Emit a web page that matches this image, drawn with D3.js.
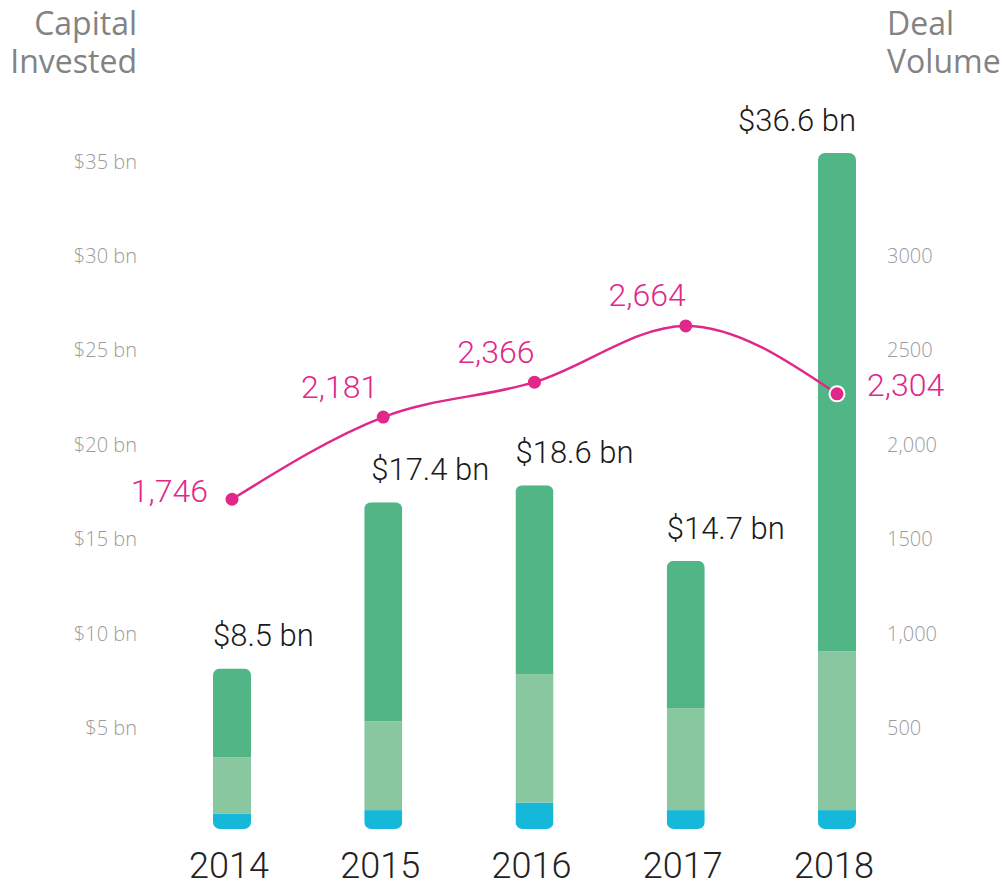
<!DOCTYPE html>
<html>
<head>
<meta charset="utf-8">
<script src="https://cdn.jsdelivr.net/npm/d3@7"></script>
<style>
    body { margin: 0; background: #fff; }
    svg { display: block; }
    .axis-label { font-family: "Open Sans", sans-serif; font-weight: 300; font-size: 20px; fill: #9b9b9b; }
    .title { font-family: "Open Sans", sans-serif; font-size: 32px; fill: #838383; }
    .year { font-family: Roboto, sans-serif; font-weight: 300; font-size: 36px; fill: #222; }
    .value { font-family: Roboto, sans-serif; font-weight: 300; font-size: 31px; fill: #1a1a1a; }
    .deal { font-family: Roboto, sans-serif; font-weight: 300; font-size: 32px; fill: #e0288a; }
</style>
</head>
<body>
<div id="graph"></div>
<script>
"use strict";
// chart data
const years = ["2014", "2015", "2016", "2017", "2018"];
// stacked capital segments (bn), bottom to top
const cyanPart = [0.8, 1.0, 1.4, 1.0, 1.0];
const lightPart = [3.0, 4.7, 6.8, 5.4, 8.4];
const darkPart = [4.7, 11.6, 10.0, 7.8, 26.4];
const capitalLabels = ["$8.5 bn", "$17.4 bn", "$18.6 bn", "$14.7 bn", "$36.6 bn"];
const dealVolume = [1746, 2181, 2366, 2664, 2304];
const dealLabels = ["1,746", "2,181", "2,366", "2,664", "2,304"];
const leftTicks = [5, 10, 15, 20, 25, 30, 35];
const leftTickLabels = ["$5 bn", "$10 bn", "$15 bn", "$20 bn", "$25 bn", "$30 bn", "$35 bn"];
const rightTicks = [500, 1000, 1500, 2000, 2500, 3000];
const rightTickLabels = ["500", "1,000", "1500", "2,000", "2500", "3000"];

(function() {
    const size = { width: 1002, height: 886 };
    const colors = {
        dark: "#52b586",
        light: "#89c7a1",
        cyan: "#16b8da",
        pink: "#e0288a"
    };
    const barWidth = 38;

    const svg = d3.select("#graph")
        .append("svg")
            .attr("width", size.width)
            .attr("height", size.height);

    const x = d3.scalePoint().domain(years).range([232, 837]);
    const yLeft = d3.scaleLinear().domain([0, 35]).range([829, 168]);
    const yRight = d3.scaleLinear().domain([0, 3500]).range([829, 168]);

    // titles
    [["Capital", 35], ["Invested", 73]].forEach(t => {
        svg.append("text").attr("class", "title").attr("text-anchor", "end")
            .attr("x", 137).attr("y", t[1]).text(t[0]);
    });
    [["Deal", 35], ["Volume", 73]].forEach(t => {
        svg.append("text").attr("class", "title").attr("text-anchor", "start")
            .attr("x", 887).attr("y", t[1]).text(t[0]);
    });

    // axes (labels only)
    const leftAxis = d3.axisLeft(yLeft).tickValues(leftTicks)
        .tickFormat((d, i) => leftTickLabels[i]).tickSize(0).tickPadding(0);
    const gl = svg.append("g").attr("transform", "translate(137,0)").call(leftAxis);
    gl.select(".domain").remove();
    gl.selectAll("text").attr("class", "axis-label").attr("dy", "0").attr("font-family", null).attr("font-size", null);

    const rightAxis = d3.axisRight(yRight).tickValues(rightTicks)
        .tickFormat((d, i) => rightTickLabels[i]).tickSize(0).tickPadding(0);
    const gr = svg.append("g").attr("transform", "translate(887,0)").call(rightAxis);
    gr.select(".domain").remove();
    gr.selectAll("text").attr("class", "axis-label").attr("dy", "0").attr("font-family", null).attr("font-size", null);

    // stacked bars
    const rows = years.map((yr, i) => ({ year: yr, cyan: cyanPart[i], light: lightPart[i], dark: darkPart[i] }));
    const keys = ["cyan", "light", "dark"];
    const series = d3.stack().keys(keys)(rows);
    const totals = rows.map(r => r.cyan + r.light + r.dark);

    const defs = svg.append("defs");
    years.forEach((yr, i) => {
        defs.append("clipPath").attr("id", "clip" + yr)
            .append("rect")
                .attr("x", x(yr) - barWidth / 2)
                .attr("y", yLeft(totals[i]))
                .attr("width", barWidth)
                .attr("height", yLeft(0) - yLeft(totals[i]))
                .attr("rx", 7);
    });

    const bars = svg.append("g");
    series.forEach(s => {
        bars.selectAll(null)
            .data(s)
            .enter()
            .append("rect")
                .attr("clip-path", d => "url(#clip" + d.data.year + ")")
                .attr("x", d => x(d.data.year) - barWidth / 2)
                .attr("y", d => yLeft(d[1]))
                .attr("width", barWidth)
                .attr("height", d => yLeft(d[0]) - yLeft(d[1]))
                .attr("fill", colors[s.key]);
    });

    // bar value labels
    svg.selectAll(".value")
        .data(years)
        .enter()
        .append("text")
            .attr("class", "value")
            .attr("text-anchor", (d, i) => i === years.length - 1 ? "end" : "start")
            .attr("x", (d, i) => i === years.length - 1 ? x(d) + barWidth / 2 : x(d) - barWidth / 2 + (i === 1 ? 7 : 0))
            .attr("y", (d, i) => yLeft(totals[i]) - 22)
            .text((d, i) => capitalLabels[i]);

    // year labels
    svg.selectAll(".year")
        .data(years)
        .enter()
        .append("text")
            .attr("class", "year")
            .attr("text-anchor", "middle")
            .attr("x", d => x(d) - 3)
            .attr("y", 878)
            .text(d => d);

    // deal volume line
    const line = d3.line()
        .x((d, i) => x(years[i]))
        .y(d => yRight(d))
        .curve(d3.curveMonotoneX);
    svg.append("path")
        .datum(dealVolume)
        .attr("d", line)
        .attr("fill", "none")
        .attr("stroke", colors.pink)
        .attr("stroke-width", 2.5);

    svg.selectAll(".dot")
        .data(dealVolume)
        .enter()
        .append("circle")
            .attr("cx", (d, i) => x(years[i]))
            .attr("cy", d => yRight(d))
            .attr("r", (d, i) => i === dealVolume.length - 1 ? 7.5 : 6.5)
            .attr("fill", colors.pink)
            .attr("stroke", (d, i) => i === dealVolume.length - 1 ? "#fff" : "none")
            .attr("stroke-width", 2);

    svg.selectAll(".deal")
        .data(dealVolume)
        .enter()
        .append("text")
            .attr("class", "deal")
            .attr("dominant-baseline", "middle")
            .attr("text-anchor", (d, i) => i === dealVolume.length - 1 ? "start" : "end")
            .attr("x", (d, i) => {
                if (i === 0) return x(years[i]) - 24;
                if (i === dealVolume.length - 1) return x(years[i]) + 30;
                if (i === 1) return x(years[i]) - 5;
                return x(years[i]);
            })
            .attr("y", (d, i) => {
                if (i === 0 || i === dealVolume.length - 1) return yRight(d) - 6;
                return yRight(d) - 28;
            })
            .text((d, i) => dealLabels[i]);
})();
</script>
</body>
</html>
